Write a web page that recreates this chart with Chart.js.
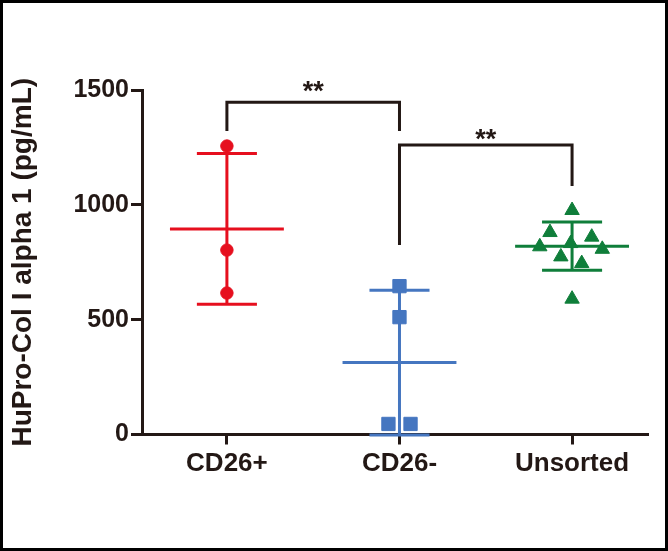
<!DOCTYPE html>
<html><head><meta charset="utf-8">
<script src="https://cdn.jsdelivr.net/npm/chart.js@4.4.1/dist/chart.umd.min.js"></script>
<style>html,body{margin:0;padding:0;background:#fff}#wrap{width:668px;height:551px;position:relative}</style>
</head><body><div id="wrap"><canvas id="c" width="668" height="551"></canvas></div>
<script>
// ---- data ----
const categories = ['CD26+', 'CD26-', 'Unsorted'];
const cd26pos = [1256, 803, 616];
const cd26posJitter = [0, 0, 0];
const cd26neg = [646, 511, 46, 46];
const cd26negJitter = [0, 0, -0.064, 0.064];
const unsorted = [976, 880, 860, 818, 832, 807, 774, 745, 590];
const unsortedJitter = [0, -0.128, 0.114, -0.187, -0.008, 0.175, -0.065, 0.056, 0];
const means = [895, 313, 820];
const sds = [328, 315, 105];
const yTicks = [0, 500, 1000, 1500];
const bracketFrom = [1, 2];
const bracketTo = [2, 3];
const bracketTop = [1447, 1260];
const bracketLeftEnd = [1321, 825];
const bracketRightEnd = [1321, 1082];
const starLabels = ['**', '**'];
const starY = [1523, 1314];

// ---- styles ----
const dark = '#231815';
const colors = ['#e60f1e', '#4576c0', '#0f7e3a'];
const shapes = ['circle', 'rect', 'triangle'];
const radii = [6.2, 9.4, 8.3];
const meanHalf = 0.33, capHalf = 0.174;

const groups = [[cd26pos, cd26posJitter], [cd26neg, cd26negJitter], [unsorted, unsortedJitter]];
const datasets = [];
groups.forEach(([vals, jit], g) => {
  datasets.push({
    data: vals.map((v, i) => ({x: g + 1 + jit[i], y: v})),
    pointStyle: shapes[g], pointRadius: radii[g], pointBackgroundColor: colors[g],
    pointBorderColor: colors[g], pointBorderWidth: 1, showLine: false, clip: false, order: 0
  });
});
function seg(points, color, width) {
  datasets.push({data: points, showLine: true, borderColor: color, borderWidth: width,
    pointRadius: 0, borderJoinStyle: 'miter', borderCapStyle: 'butt', tension: 0, clip: false, order: 1});
}
means.forEach((m, g) => {
  const c = g + 1, s = sds[g], col = colors[g];
  seg([{x: c - meanHalf, y: m}, {x: c + meanHalf, y: m}], col, 3);
  seg([{x: c - capHalf, y: m + s}, {x: c + capHalf, y: m + s}], col, 3);
  seg([{x: c, y: m + s}, {x: c, y: m - s}], col, 3);
  seg([{x: c - capHalf, y: m - s}, {x: c + capHalf, y: m - s}], col, 3);
});
bracketFrom.forEach((f, i) => {
  seg([{x: f, y: bracketLeftEnd[i]}, {x: f, y: bracketTop[i]}, {x: bracketTo[i], y: bracketTop[i]}, {x: bracketTo[i], y: bracketRightEnd[i]}], dark, 3);
});

const decor = {
  id: 'decor',
  beforeDraw(chart) {
    const {ctx, width, height} = chart;
    ctx.save(); ctx.fillStyle = '#ffffff'; ctx.fillRect(0, 0, width, height); ctx.restore();
  },
  afterDraw(chart) {
    const {ctx, width, height} = chart;
    const xs = chart.scales.x, ys = chart.scales.y;
    ctx.save();
    ctx.fillStyle = dark;
    ctx.font = 'bold 27px "Liberation Sans", Arial, sans-serif';
    ctx.textAlign = 'center'; ctx.textBaseline = 'alphabetic';
    starLabels.forEach((s, i) => {
      const x = xs.getPixelForValue((bracketFrom[i] + bracketTo[i]) / 2);
      const y = ys.getPixelForValue(starY[i]);
      ctx.fillText(s, x, y + 0.57 * 27);
    });
    ctx.strokeStyle = '#000'; ctx.lineWidth = 3;
    ctx.strokeRect(1.5, 1.5, width - 3, height - 3);
    ctx.restore();
  }
};

new Chart(document.getElementById('c'), {
  type: 'scatter',
  data: {datasets},
  plugins: [decor],
  options: {
    responsive: false, animation: false, devicePixelRatio: 1,
    layout: {padding: {top: 90, right: 20, bottom: 0, left: 0}},
    plugins: {legend: {display: false}, tooltip: {enabled: false}},
    scales: {
      x: {
        type: 'linear', min: 0.508, max: 3.44,
        afterBuildTicks: s => { s.ticks = categories.map((c, i) => ({value: i + 1})); },
        ticks: {callback: v => categories[v - 1] ?? '', color: dark, padding: 4, maxRotation: 0, autoSkip: false,
          font: {family: '"Liberation Sans", Arial, sans-serif', weight: 'bold', size: 26}},
        grid: {drawOnChartArea: false, drawTicks: true, tickLength: 10, tickWidth: 3, tickColor: dark},
        border: {color: dark, width: 3},
        afterFit: s => { s.height = 116.5; }
      },
      y: {
        type: 'linear', min: 0, max: 1500,
        afterBuildTicks: s => { s.ticks = yTicks.map(v => ({value: v})); },
        ticks: {callback: v => String(v), color: dark, padding: 2, font: {family: '"Liberation Sans", Arial, sans-serif', weight: 'bold', size: 25}},
        grid: {drawOnChartArea: false, drawTicks: true, tickLength: 11, tickWidth: 3, tickColor: dark},
        border: {color: dark, width: 3},
        title: {display: true, text: 'HuPro-Col I alpha 1 (pg/mL)', color: dark, padding: {top: 6, bottom: 0},
          font: {family: '"Liberation Sans", Arial, sans-serif', weight: 'bold', size: 28}},
        afterFit: s => { s.width = 142; }
      }
    }
  }
});
</script></body></html>
